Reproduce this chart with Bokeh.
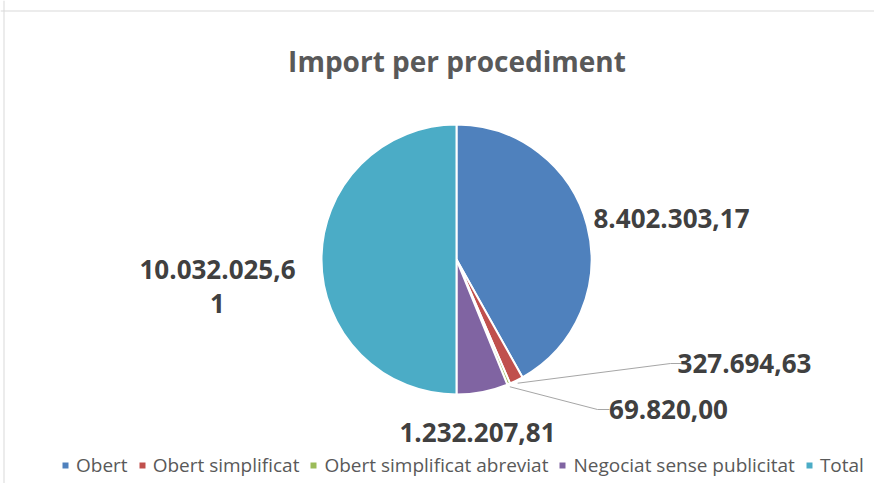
import math
from bokeh.plotting import figure
from bokeh.models import Range1d, Span, Legend, LegendItem
from bokeh.core.properties import value
from bokeh.embed import file_html
from bokeh.resources import INLINE

# ---------------- data ----------------
title_text = "Import per procediment"
categories = ["Obert", "Obert simplificat", "Obert simplificat abreviat",
              "Negociat sense publicitat", "Total"]
amounts = [8402303.17, 327694.63, 69820.00, 1232207.81, 10032025.61]
colors = ["#4F81BD", "#C0504D", "#9BBB59", "#8064A2", "#4BACC6"]

# ---------------- layout (reference pixel coordinates) ----------------
W, H, PAGE_H = 874, 483, 499
CX, CY, R = 456, 259, 135
# label anchors: centre x, baseline y
label_pos = [(671, 218), (744, 363), (668, 409), (477, 432), (217, 269)]
label_wrap = [None, None, None, None, 12]
line_gap = 34
# leader lines (elbow point, end point) for slices with outside labels
leaders = {1: ((670, 363), (681, 363)), 2: ((597, 409), (609, 409))}


def Y(py):
    return PAGE_H - py


def fmt(v):
    s = f"{v:,.2f}"
    return s.replace(",", "X").replace(".", ",").replace("X", ".")


p = figure(width=W, height=H,
           x_range=Range1d(0, W),
           y_range=Range1d(PAGE_H - H, PAGE_H),
           output_backend="svg", toolbar_location=None,
           x_axis_type=None, y_axis_type=None, min_border=0,
           outline_line_color=None, background_fill_color="white",
           border_fill_color="white")
p.grid.visible = False

# frame lines (left / top)
p.add_layout(Span(location=3.5, dimension="height", line_color="#d9d9d9", line_width=1))
p.add_layout(Span(location=Y(10.5), dimension="width", line_color="#d9d9d9", line_width=1))

# title
p.text(x=[456.5], y=[Y(60)], text=[title_text], text_font=value("Open Sans"),
       text_font_style="bold", text_font_size="28px", text_color="#595959",
       text_align="center", text_baseline="alphabetic")

# wedges
total = sum(amounts)
starts, ends, mids = [], [], []
c = 0.0
for a in amounts:
    c0 = c
    c += a / total
    starts.append(math.pi / 2 - 2 * math.pi * c0)
    ends.append(math.pi / 2 - 2 * math.pi * c)
    mids.append(math.pi / 2 - 2 * math.pi * (c0 + c) / 2)

items = []
for i, cat in enumerate(categories):
    r = p.wedge(x=[CX], y=[Y(CY)], radius=R, start_angle=[starts[i]], end_angle=[ends[i]],
                direction="clock", fill_color=colors[i], line_color="white", line_width=2)
    items.append(LegendItem(label=cat, renderers=[r]))

# leader lines
for i, (elbow, end) in leaders.items():
    sx = CX + (R + 3) * math.cos(mids[i])
    sy = Y(CY) + (R + 3) * math.sin(mids[i])
    p.line(x=[sx, elbow[0], end[0]], y=[sy, Y(elbow[1]), Y(end[1])],
           line_color="#a6a6a6", line_width=1)

# data labels
lx, ly, lt = [], [], []
for i, a in enumerate(amounts):
    s = fmt(a)
    lines = [s] if label_wrap[i] is None else [s[:label_wrap[i]], s[label_wrap[i]:]]
    for k, ln in enumerate(lines):
        lx.append(label_pos[i][0])
        ly.append(Y(label_pos[i][1] + k * line_gap))
        lt.append(ln)
p.text(x=lx, y=ly, text=lt, text_font=value("Open Sans"), text_font_style="bold",
       text_font_size="26px", text_color="#404040", text_align="center",
       text_baseline="alphabetic")

legend = Legend(items=items, orientation="horizontal", location=(60, 5),
                label_text_font="Open Sans", label_text_font_size="19px",
                label_text_color="#595959", glyph_width=10, glyph_height=10,
                label_standoff=6, spacing=9, padding=0, margin=0,
                border_line_color=None, background_fill_alpha=0)
p.add_layout(legend)

open("out.html", "w").write(file_html(p, INLINE))
